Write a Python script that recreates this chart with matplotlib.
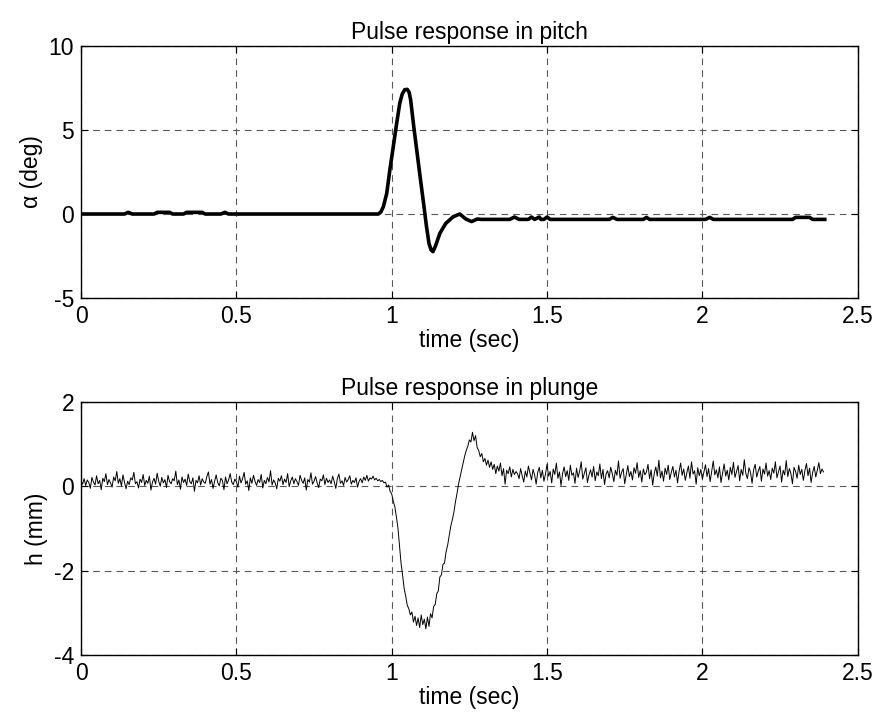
import numpy as np
import matplotlib
matplotlib.use("Agg")
import matplotlib.pyplot as plt

plt.rcParams['font.family'] = ['Liberation Sans', 'DejaVu Sans']
plt.rcParams['axes.unicode_minus'] = False

# pitch response (deg), read at irregular times off the picture
pitch_t = [0.0, 0.14, 0.152, 0.165, 0.235, 0.245, 0.285, 0.295, 0.33, 0.34,
           0.39, 0.40, 0.45, 0.463, 0.475, 0.957, 0.965, 0.973, 0.984, 0.994,
           1.005, 1.016, 1.026, 1.034, 1.042, 1.05, 1.056, 1.061, 1.071, 1.082,
           1.093, 1.104, 1.112, 1.12, 1.127, 1.133, 1.142, 1.155, 1.174, 1.198,
           1.219, 1.239, 1.257, 1.275, 1.29, 1.38, 1.395, 1.41, 1.44, 1.45,
           1.46, 1.475, 1.48, 1.49, 1.50, 1.51, 1.70, 1.712, 1.725, 1.81,
           1.82, 1.83, 2.01, 2.024, 2.035, 2.29, 2.30, 2.345, 2.355, 2.394]
pitch_deg = [0.0, 0.0, 0.1, 0.0, 0.0, 0.1, 0.1, 0.0, 0.0, 0.1,
             0.1, 0.0, 0.0, 0.1, 0.0, 0.0, 0.12, 0.43, 1.23, 2.62,
             4.0, 5.4, 6.6, 7.15, 7.4, 7.42, 7.25, 6.79, 5.2, 3.6,
             2.0, 0.43, -0.75, -1.75, -2.15, -2.24, -1.85, -1.15, -0.56, -0.16,
             0.0, -0.3, -0.45, -0.3, -0.32, -0.32, -0.18, -0.32, -0.32, -0.18,
             -0.32, -0.18, -0.32, -0.32, -0.18, -0.32, -0.32, -0.2, -0.32, -0.32,
             -0.2, -0.32, -0.32, -0.2, -0.32, -0.32, -0.2, -0.2, -0.32, -0.32]

# plunge response (mm), one sample every 5 ms from t = 0
dt = 0.005
plunge_mm = [
    0.12, 0.05, 0.18, 0.02, 0.15, 0.09, -0.05, 0.21, 0.10, 0.03, 0.25, 0.06, 0.14, -0.08, 0.19, 0.11, 0.30, 0.04, 0.16, 0.08,
    -0.02, 0.22, 0.13, 0.35, 0.07, 0.18, 0.01, 0.27, 0.09, -0.06, 0.12, 0.04, 0.20, 0.15, 0.33, 0.06, 0.11, -0.04, 0.17, 0.09,
    0.28, 0.02, 0.14, 0.07, 0.24, -0.09, 0.10, 0.19, 0.05, 0.31, 0.12, 0.00, 0.21, 0.08, 0.16, -0.03, 0.26, 0.11, 0.06, 0.18,
    0.13, 0.36, 0.04, 0.15, -0.07, 0.22, 0.09, 0.17, 0.02, 0.29, 0.11, 0.06, 0.20, -0.12, 0.14, 0.08, 0.25, 0.03, 0.18, 0.10,
    0.07, 0.23, 0.34, 0.05, 0.16, -0.05, 0.12, 0.27, 0.09, 0.01, 0.19, 0.14, -0.08, 0.22, 0.06, 0.15, 0.30, 0.10, 0.04, 0.17,
    0.11, -0.02, 0.24, 0.08, 0.18, 0.33, 0.05, 0.13, -0.10, 0.20, 0.07, 0.26, 0.12, 0.02, 0.16, 0.09, 0.28, -0.04, 0.14, 0.06,
    0.21, 0.10, 0.37, 0.03, 0.15, 0.08, -0.06, 0.19, 0.12, 0.25, 0.04, 0.17, 0.09, 0.30, -0.01, 0.13, 0.22, 0.06, 0.18, 0.11,
    0.02, 0.26, 0.14, 0.07, 0.20, -0.09, 0.16, 0.10, 0.32, 0.05, 0.12, 0.23, 0.08, -0.03, 0.17, 0.13, 0.27, 0.04, 0.19, 0.09,
    0.15, 0.06, 0.24, 0.11, -0.05, 0.18, 0.29, 0.07, 0.13, 0.02, 0.21, 0.10, 0.16, 0.25, 0.05, 0.14, 0.09, 0.20, -0.02, 0.12,
    0.18, 0.08, 0.22, 0.14, 0.26, 0.12, 0.20, 0.17, 0.24, 0.15, 0.19, 0.13, 0.16, 0.11,
    # dip and overshoot, t = 0.97 .. 1.40
    0.14, 0.08, 0.10, -0.02, 0.03, -0.12, -0.18, -0.35, -0.48, -0.72,
    -0.98, -1.40, -1.82, -2.10, -2.42, -2.60, -2.82, -2.90, -3.05, -2.98,
    -3.22, -3.08, -3.30, -3.12, -3.35, -3.05, -3.28, -3.15, -3.38, -3.10,
    -3.32, -3.02, -3.12, -2.85, -2.80, -2.55, -2.48, -2.15, -2.10, -1.85,
    -1.82, -1.55, -1.40, -1.18, -0.95, -0.80, -0.62, -0.38, -0.18, 0.05,
    0.22, 0.40, 0.55, 0.72, 0.85, 0.95, 1.10, 1.05, 1.28, 1.08,
    1.20, 0.92, 0.85, 0.70, 0.78, 0.58, 0.66, 0.50, 0.62, 0.45,
    0.58, 0.40, 0.52, 0.30, 0.48, 0.36, 0.55, 0.25, 0.42, 0.05,
    0.38, 0.30, 0.46, 0.22, 0.40, 0.28, 0.35,
    # settled, t = 1.405 .. 2.39
    0.30, 0.18, 0.42, 0.25, 0.10, 0.36, 0.22, 0.48, 0.31, 0.15, 0.40, 0.27, 0.05, 0.33, 0.45, 0.20, 0.38, 0.12, 0.29, 0.52,
    0.24, 0.35, 0.08, 0.41, 0.28, 0.55, 0.19, 0.34, 0.02, 0.30, 0.46, 0.23, 0.37, 0.14, 0.50, 0.26, 0.32, 0.07, 0.43, 0.21,
    0.36, 0.58, 0.17, 0.31, 0.44, 0.09, 0.27, 0.39, 0.22, 0.47, 0.13, 0.34, 0.25, 0.53, 0.18, 0.40, 0.04, 0.29, 0.37, 0.20,
    0.45, 0.30, 0.11, 0.38, 0.26, 0.60, 0.19, 0.33, 0.42, 0.06, 0.28, 0.49, 0.23, 0.35, 0.15, 0.44, 0.31, 0.56, 0.21, 0.37,
    0.10, 0.41, 0.27, 0.34, 0.52, 0.18, 0.39, 0.03, 0.30, 0.46, 0.24, 0.62, 0.20, 0.36, 0.12, 0.43, 0.28, 0.50, 0.16, 0.33,
    0.47, 0.22, 0.38, 0.08, 0.35, 0.55, 0.26, 0.41, 0.14, 0.32, 0.48, 0.19, 0.58, 0.29, 0.37, 0.05, 0.44, 0.25, 0.40, 0.17,
    0.34, 0.51, 0.23, 0.42, 0.11, 0.36, 0.60, 0.27, 0.39, 0.20, 0.46, 0.09, 0.31, 0.53, 0.24, 0.38, 0.15, 0.45, 0.28, 0.57,
    0.21, 0.35, 0.49, 0.13, 0.40, 0.26, 0.63, 0.30, 0.18, 0.44, 0.33, 0.07, 0.39, 0.52, 0.22, 0.36, 0.47, 0.12, 0.41, 0.29,
    0.55, 0.24, 0.37, 0.16, 0.43, 0.31, 0.58, 0.20, 0.34, 0.48, 0.10, 0.38, 0.27, 0.61, 0.23, 0.42, 0.30, 0.06, 0.45, 0.35,
    0.19, 0.50, 0.28, 0.40, 0.14, 0.37, 0.54, 0.25, 0.43, 0.09, 0.33, 0.47, 0.22, 0.38, 0.56, 0.30, 0.41, 0.34,
]
plunge_t = np.arange(len(plunge_mm)) * dt

x_ticks = [0, 0.5, 1, 1.5, 2, 2.5]
x_labels = ["0", "0.5", "1", "1.5", "2", "2.5"]
pitch_yticks = [-5, 0, 5, 10]
plunge_yticks = [-4, -2, 0, 2]

FS = 16.5

fig = plt.figure(figsize=(8.77, 7.19), dpi=100)
ax1 = fig.add_axes([0.0924, 0.5855, 0.8856, 0.3505])
ax2 = fig.add_axes([0.0924, 0.089, 0.8856, 0.352])


def style(ax, yticks):
    ax.set_xlim(0, 2.5)
    ax.set_ylim(yticks[0], yticks[-1])
    ax.set_xticks(x_ticks)
    ax.set_xticklabels(x_labels)
    ax.set_yticks(yticks)
    ax.tick_params(direction="in", top=True, right=True, length=5,
                   width=0.8, labelsize=FS, pad=5)
    ax.grid(True, color="0.35", linestyle=(0, (6, 4.5)), linewidth=0.8)
    for s in ax.spines.values():
        s.set_linewidth(1.0)
    ax.set_xlabel("time (sec)", fontsize=FS, labelpad=1)


ax1.plot(pitch_t, pitch_deg, color="black", linewidth=2.6,
         solid_joinstyle="round")
style(ax1, pitch_yticks)
ax1.set_title("Pulse response in pitch", fontsize=FS, pad=5)
ax1.set_ylabel("α (deg)", fontsize=FS, labelpad=4)

ax2.plot(plunge_t, plunge_mm, color="black", linewidth=0.7)
style(ax2, plunge_yticks)
ax2.set_title("Pulse response in plunge", fontsize=FS, pad=5)
ax2.set_ylabel("h (mm)", fontsize=FS, labelpad=4)

fig.savefig("out.png", dpi=100)
